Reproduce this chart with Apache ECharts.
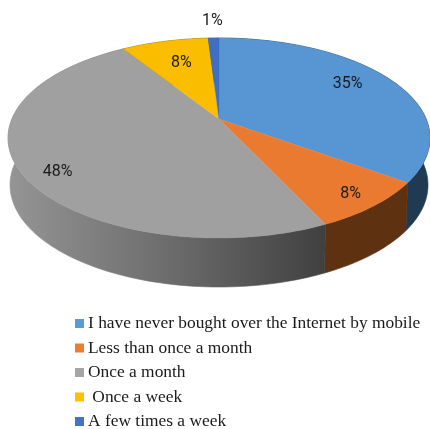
<!DOCTYPE html>
<html>
<head>
<meta charset="utf-8">
<style>html,body{margin:0;padding:0;background:#fff}#chart{width:430px;height:429px}</style>
<script src="https://cdn.jsdelivr.net/npm/echarts@6/dist/echarts.min.js"></script>
</head>
<body>
<div id="chart"></div>
<script>
// Survey answers and their shares, in percent
var categories = [
  'I have never bought over the Internet by mobile',
  'Less than once a month',
  'Once a month',
  ' Once a week',
  'A few times a week'
];
var shares = [35, 8, 48, 8, 1];

// Colours
var faceColors = ['#5795d3', '#e97a2f', '#a0a0a0', '#fabd00', '#3f6fc3'];
var legendColors = ['#5b9bd5', '#ed7d31', '#a5a5a5', '#ffc000', '#4472c4'];
var sideFills = [
  '#1f3b54',
  '#5e3110',
  { type: 'linear', global: true, x: 8, y: 0, x2: 332, y2: 0,
    colorStops: [
      { offset: 0, color: '#959595' },
      { offset: 0.5, color: '#6c6c6c' },
      { offset: 1, color: '#3e3e3e' }
    ] },
  '#7a5c00',
  '#22385f'
];

// Label placement, as a fraction of the radius and a turn off the slice's mid-angle
var labelRadius = [0.78, 0.87, 0.86, 0.70, 1.28];
var labelTurn = [-4, 0, -6, 1, 0];

// Tilted disc: the circle is projected so its centre sits behind the ellipse's centre
var upperDisc = { cx: 219, cy: 138, rx: 211, ry: 100 };
var lowerDisc = { cx: 219, cy: 185, rx: 209, ry: 102 };
var tilt = -0.19;

function project(disc, angleDeg, r) {
  var a = angleDeg * Math.PI / 180;
  var u = r * Math.sin(a);
  var v = -r * Math.cos(a);
  var w = 1 + tilt * v;
  return [
    disc.cx + disc.rx * u * Math.sqrt(1 - tilt * tilt) / w,
    disc.cy + disc.ry * (v + tilt) / w
  ];
}

function arc(disc, from, to) {
  var pts = [];
  var n = Math.max(2, Math.ceil((to - from) / 1.5));
  for (var i = 0; i <= n; i++) {
    pts.push(project(disc, from + (to - from) * i / n, 1));
  }
  return pts;
}

function sliceRenderer(index) {
  return function (params, api) {
    var total = shares.reduce(function (s, v) { return s + v; }, 0);
    var before = shares.slice(0, index).reduce(function (s, v) { return s + v; }, 0);
    var from = before / total * 360;
    var to = from + api.value(0) / total * 360;
    var mid = (from + to) / 2 + labelTurn[index];
    var upperArc = arc(upperDisc, from, to);
    var sidePts = upperArc.concat(arc(lowerDisc, from, to).reverse());
    var facePts = [project(upperDisc, 0, 0)].concat(upperArc);
    var pos = project(upperDisc, mid, labelRadius[index]);
    return {
      type: 'group',
      children: [
        { type: 'polygon', z2: 1, shape: { points: sidePts },
          style: { fill: sideFills[index], stroke: sideFills[index], lineWidth: 0.6 } },
        { type: 'polygon', z2: 2, shape: { points: facePts },
          style: { fill: faceColors[index], stroke: faceColors[index], lineWidth: 0.3 } },
        { type: 'text', z2: 3, x: pos[0], y: pos[1] + 1,
          style: { text: api.value(0) + '%', fill: '#1a1a1a', align: 'center', verticalAlign: 'middle',
            font: '16px Roboto' } }
      ]
    };
  };
}

var chart = echarts.init(document.getElementById('chart'), null, { renderer: 'canvas' });
chart.setOption({
  animation: false,
  backgroundColor: '#fff',
  legend: {
    orient: 'vertical',
    left: 75,
    top: 315,
    height: 125,
    padding: 0,
    itemWidth: 7,
    itemHeight: 7,
    itemGap: 7.5,
    selectedMode: false,
    icon: 'rect',
    itemStyle: { borderWidth: 2, borderColor: 'inherit' },
    textStyle: {
      fontFamily: 'Liberation Serif',
      fontSize: 17.4,
      color: '#1a1a1a',
      lineHeight: 12
    },
    data: categories
  },
  series: categories.map(function (name, i) {
    return {
      type: 'custom',
      name: name,
      coordinateSystem: 'none',
      silent: true,
      itemStyle: { color: legendColors[i], borderColor: legendColors[i] },
      data: [[shares[i]]],
      renderItem: sliceRenderer(i)
    };
  })
});
</script>
</body>
</html>
